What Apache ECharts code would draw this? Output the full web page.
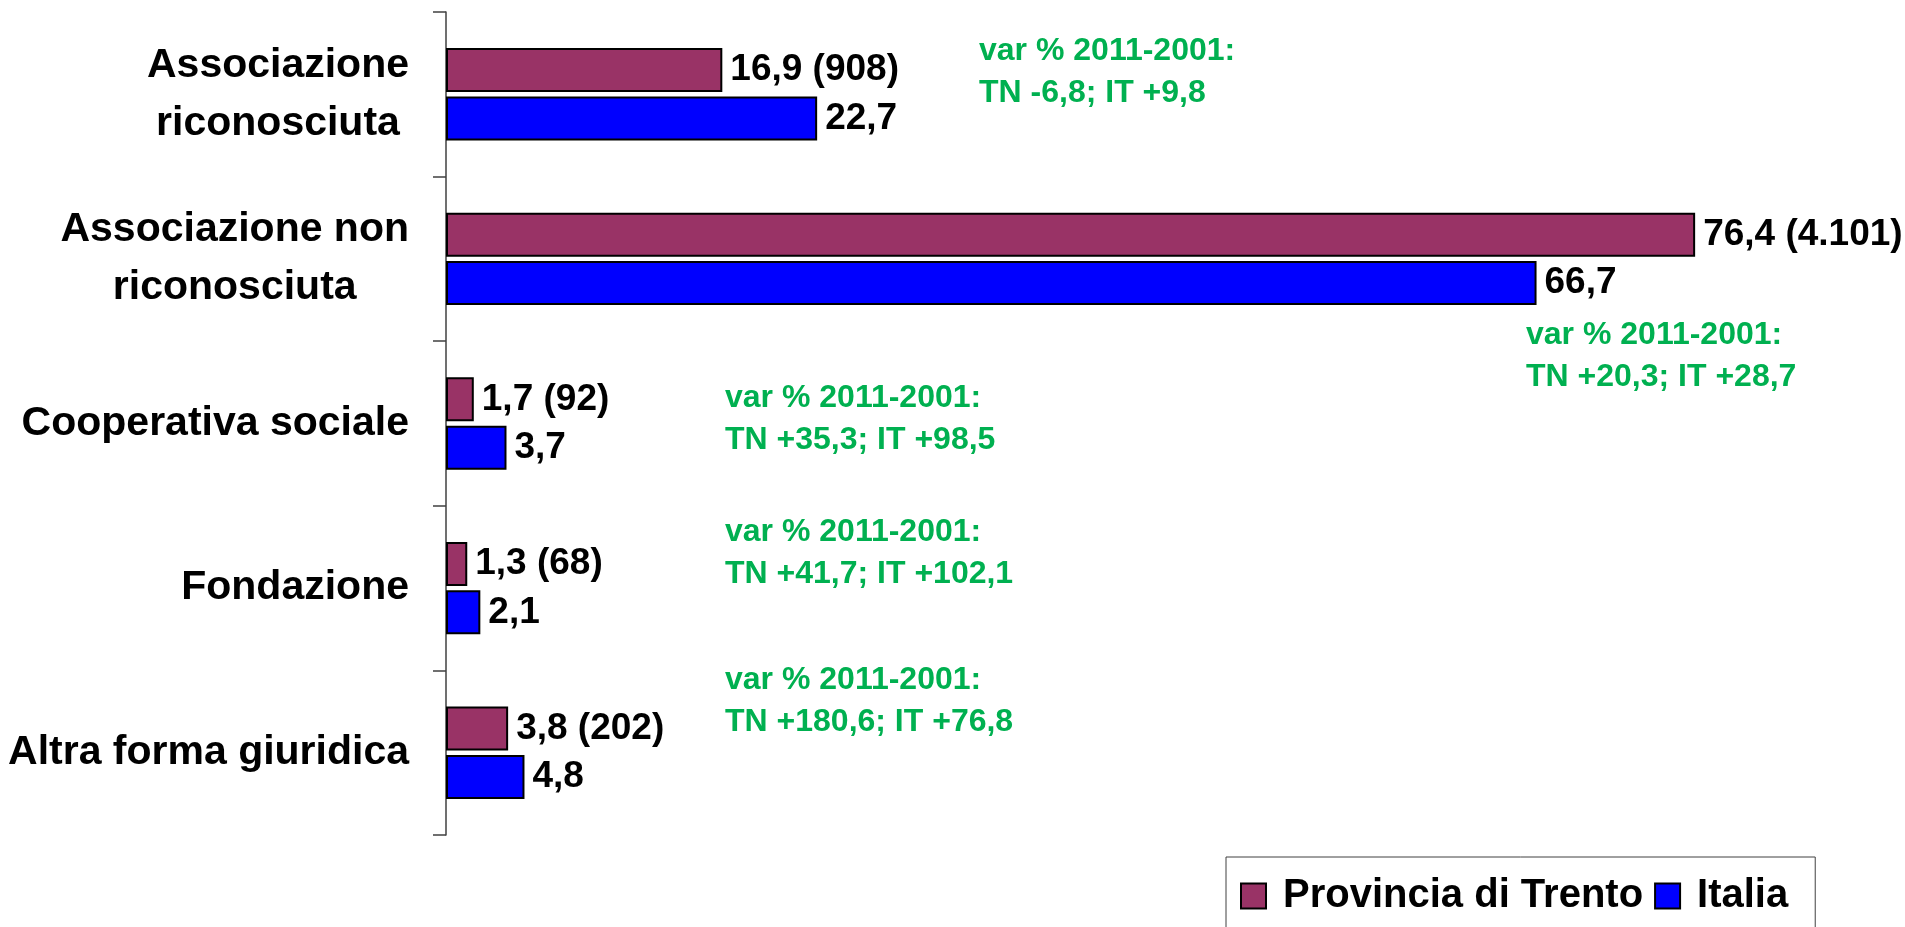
<!DOCTYPE html>
<html>
<head>
<meta charset="utf-8">
<script src="https://cdn.jsdelivr.net/npm/echarts@6/dist/echarts.min.js"></script>
<style>
    html, body { margin: 0; padding: 0; background: #fff; }
    #chart { width: 1905px; height: 927px; }
</style>
</head>
<body>
<div id="chart"></div>
<script>
// categorie (dall'alto verso il basso)
const categories = [
    'Associazione\nriconosciuta',
    'Associazione non\nriconosciuta',
    'Cooperativa sociale',
    'Fondazione',
    'Altra forma giuridica'
];
// quota % e numero di istituzioni - Provincia di Trento
const trentoPct = [16.9, 76.4, 1.7, 1.3, 3.8];
const trentoCount = [908, 4101, 92, 68, 202];
// quota % - Italia
const italiaPct = [22.7, 66.7, 3.7, 2.1, 4.8];
// variazione % 2011-2001
const varTN = [-6.8, 20.3, 35.3, 41.7, 180.6];
const varIT = [9.8, 28.7, 98.5, 102.1, 76.8];

const FONT = '"Liberation Sans", Arial, sans-serif';
const GREEN = '#00B050';

function fmt(v) {
    return v.toFixed(1).replace('.', ',');
}
function fmtSigned(v) {
    return (v >= 0 ? '+' : '') + fmt(v);
}
function fmtCount(n) {
    return String(n).replace(/\B(?=(\d{3})+(?!\d))/g, '.');
}

// posizione delle note verdi (px: sinistra, alto)
const notePos = [
    [979, 30],
    [1526, 314],
    [725, 377],
    [725, 511],
    [725, 659]
];

const chart = echarts.init(document.getElementById('chart'));

const option = {
    animation: false,
    backgroundColor: '#fff',
    grid: {
        left: 446,
        top: 12,
        bottom: 92,
        right: 151,
        outerBoundsMode: 'none'
    },
    xAxis: {
        type: 'value',
        min: 0,
        max: 80,
        show: false
    },
    yAxis: {
        type: 'category',
        inverse: true,
        data: categories,
        axisLine: { show: true, lineStyle: { color: '#404040', width: 1.5 } },
        axisTick: { show: true, alignWithLabel: false, length: 13, lineStyle: { color: '#404040', width: 1.5 } },
        axisLabel: {
            margin: 37,
            formatter: function(value) {
                return value.split('\n').map(function(s) { return '{c|' + s + '}'; }).join('\n');
            },
            rich: {
                c: {
                    align: 'center',
                    fontFamily: FONT,
                    fontWeight: 'bold',
                    fontSize: 41,
                    lineHeight: 58,
                    color: '#000'
                }
            }
        }
    },
    legend: {
        left: 1226,
        top: 857,
        orient: 'horizontal',
        borderColor: '#404040',
        borderWidth: 1,
        padding: [17, 27, 40, 14],
        itemWidth: 25,
        itemHeight: 25,
        itemGap: 11,
        icon: 'rect',
        textStyle: {
            fontFamily: FONT,
            fontWeight: 'bold',
            fontSize: 40,
            lineHeight: 44,
            color: '#000',
            padding: [0, 0, 0, 12]
        },
        data: ['Provincia di Trento', 'Italia']
    },
    series: [
        {
            name: 'Provincia di Trento',
            type: 'bar',
            barWidth: 44,
            barGap: '10%',
            itemStyle: { color: '#993366', borderColor: '#000', borderWidth: 2 },
            label: {
                show: true,
                position: 'right',
                distance: 8,
                fontFamily: FONT,
                fontWeight: 'bold',
                fontSize: 37,
                color: '#000',
                formatter: function(p) {
                    return fmt(p.value) + ' (' + fmtCount(trentoCount[p.dataIndex]) + ')';
                }
            },
            data: trentoPct
        },
        {
            name: 'Italia',
            type: 'bar',
            barWidth: 44,
            itemStyle: { color: '#0000FF', borderColor: '#000', borderWidth: 2 },
            label: {
                show: true,
                position: 'right',
                distance: 8,
                fontFamily: FONT,
                fontWeight: 'bold',
                fontSize: 37,
                color: '#000',
                formatter: function(p) {
                    return fmt(p.value);
                }
            },
            data: italiaPct
        }
    ],
    graphic: varTN.map(function(tn, i) {
        return {
            type: 'text',
            left: notePos[i][0],
            top: notePos[i][1],
            style: {
                text: 'var % 2011-2001:\nTN ' + fmtSigned(tn) + '; IT ' + fmtSigned(varIT[i]),
                fontFamily: FONT,
                fontWeight: 'bold',
                fontSize: 32,
                lineHeight: 42,
                fill: GREEN
            }
        };
    })
};

chart.setOption(option);

window.addEventListener('resize', function() {
    chart.resize();
});
</script>
</body>
</html>
